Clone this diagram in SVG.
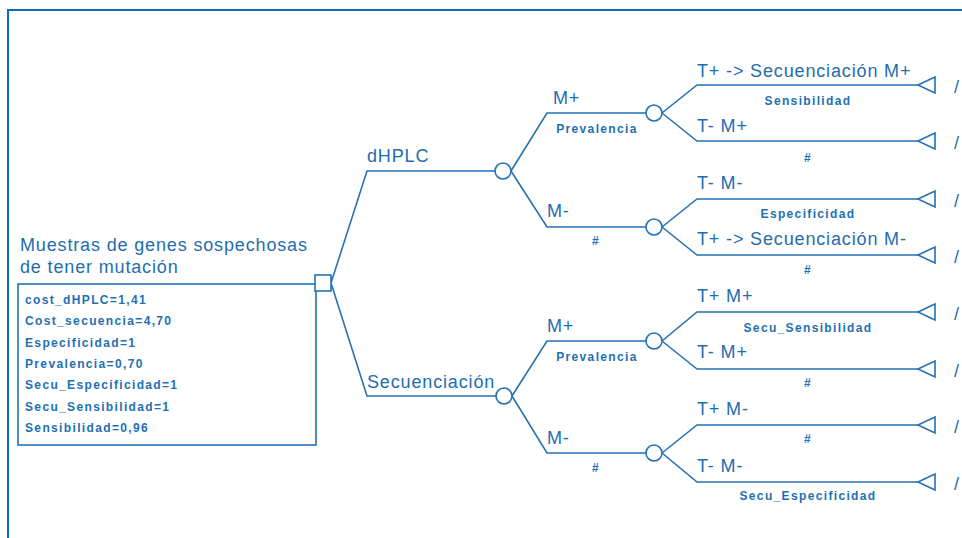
<svg xmlns="http://www.w3.org/2000/svg" width="962" height="538" viewBox="0 0 962 538">
  <style>
    .frame { fill: none; stroke: #0A6CB4; stroke-width: 2; }
    .edge { fill: none; stroke: #2472B4; stroke-width: 1.6; }
    .node { fill: #FFFFFF; stroke: #2472B4; stroke-width: 1.6; }
    .big { font-family: "Liberation Sans", Arial, sans-serif; font-size: 18px; letter-spacing: 0.85px; fill: #1F6DB0; }
    .small { font-family: "Liberation Sans", Arial, sans-serif; font-size: 12px; font-weight: bold; letter-spacing: 1.35px; fill: #2270B2; }
    .mid { text-anchor: middle; }
  </style>
  <defs>
    <polygon id="terminal" points="0,0 17,-8 17,8" class="node"/>
  </defs>

  <rect width="962" height="538" fill="#FFFFFF"/>
  <!-- window frame -->
  <path class="frame" d="M8,540 V10 H966"/>

  <!-- connectors -->
  <g id="connectors">
    <!-- decision to strategies -->
    <path class="edge" d="M331,283 L367,171 H495"/>
    <path class="edge" d="M331,283 L367,396 H496"/>
    <!-- dHPLC chance branches -->
    <path class="edge" d="M511,171 L547,113 H646"/>
    <path class="edge" d="M511,171 L547,227 H646"/>
    <!-- Secuenciacion chance branches -->
    <path class="edge" d="M512,396 L547,341 H646"/>
    <path class="edge" d="M512,396 L547,453 H646"/>
    <!-- test outcome branches -->
    <path class="edge" d="M662,113 L697,85 H918 M662,113 L697,141 H918"/>
    <path class="edge" d="M662,227 L697,199 H918 M662,227 L697,255 H918"/>
    <path class="edge" d="M662,341 L697,312 H918 M662,341 L697,369 H918"/>
    <path class="edge" d="M662,453 L697,425 H918 M662,453 L697,482 H918"/>
  </g>

  <!-- root decision node with its variable box -->
  <g id="decision">
    <text class="big" x="20" y="251">Muestras de genes sospechosas</text>
    <text class="big" x="20" y="273">de tener mutación</text>
    <rect class="node" x="18" y="284" width="298" height="161" fill="none"/>
    <text class="small" x="25" y="303.5">cost_dHPLC=1,41</text>
    <text class="small" x="25" y="325">Cost_secuencia=4,70</text>
    <text class="small" x="25" y="346.5">Especificidad=1</text>
    <text class="small" x="25" y="368">Prevalencia=0,70</text>
    <text class="small" x="25" y="389">Secu_Especificidad=1</text>
    <text class="small" x="25" y="410.5">Secu_Sensibilidad=1</text>
    <text class="small" x="25" y="432">Sensibilidad=0,96</text>
    <rect class="node" x="315" y="275" width="16" height="16"/>
  </g>

  <!-- strategy: dHPLC -->
  <g id="chance-dhplc">
    <text class="big" x="367" y="162">dHPLC</text>
    <circle class="node" cx="503" cy="171" r="8"/>
  </g>
  <g id="chance-dhplc-mpos">
    <text class="big" x="553" y="104">M+</text>
    <text class="small mid" x="597" y="133">Prevalencia</text>
    <circle class="node" cx="654" cy="113" r="8"/>
  </g>
  <g id="chance-dhplc-mneg">
    <text class="big" x="547" y="217">M-</text>
    <text class="small mid" x="596" y="245">#</text>
    <circle class="node" cx="654" cy="227" r="8"/>
  </g>

  <!-- strategy: Secuenciacion -->
  <g id="chance-secu">
    <text class="big" x="367" y="388">Secuenciación</text>
    <circle class="node" cx="504" cy="396" r="8"/>
  </g>
  <g id="chance-secu-mpos">
    <text class="big" x="547" y="332">M+</text>
    <text class="small mid" x="597" y="361">Prevalencia</text>
    <circle class="node" cx="654" cy="341" r="8"/>
  </g>
  <g id="chance-secu-mneg">
    <text class="big" x="547" y="444">M-</text>
    <text class="small mid" x="596" y="472">#</text>
    <circle class="node" cx="654" cy="453" r="8"/>
  </g>

  <!-- terminal nodes -->
  <g id="term-1">
    <text class="big" x="697" y="77">T+ -&gt; Secuenciación M+</text>
    <text class="small mid" x="808" y="105">Sensibilidad</text>
    <use href="#terminal" x="918" y="85"/>
    <text class="big" x="954" y="93">/</text>
  </g>
  <g id="term-2">
    <text class="big" x="697" y="132">T- M+</text>
    <text class="small mid" x="808" y="162">#</text>
    <use href="#terminal" x="918" y="141"/>
    <text class="big" x="954" y="149">/</text>
  </g>
  <g id="term-3">
    <text class="big" x="697" y="189">T- M-</text>
    <text class="small mid" x="808" y="218">Especificidad</text>
    <use href="#terminal" x="918" y="199"/>
    <text class="big" x="954" y="207">/</text>
  </g>
  <g id="term-4">
    <text class="big" x="697" y="245">T+ -&gt; Secuenciación M-</text>
    <text class="small mid" x="808" y="274">#</text>
    <use href="#terminal" x="918" y="255"/>
    <text class="big" x="954" y="263">/</text>
  </g>
  <g id="term-5">
    <text class="big" x="697" y="302">T+ M+</text>
    <text class="small mid" x="808" y="332">Secu_Sensibilidad</text>
    <use href="#terminal" x="918" y="312"/>
    <text class="big" x="954" y="320">/</text>
  </g>
  <g id="term-6">
    <text class="big" x="697" y="358">T- M+</text>
    <text class="small mid" x="808" y="387">#</text>
    <use href="#terminal" x="918" y="369"/>
    <text class="big" x="954" y="377">/</text>
  </g>
  <g id="term-7">
    <text class="big" x="697" y="415">T+ M-</text>
    <text class="small mid" x="808" y="443">#</text>
    <use href="#terminal" x="918" y="425"/>
    <text class="big" x="954" y="433">/</text>
  </g>
  <g id="term-8">
    <text class="big" x="697" y="472">T- M-</text>
    <text class="small mid" x="808" y="500">Secu_Especificidad</text>
    <use href="#terminal" x="918" y="482"/>
    <text class="big" x="954" y="490">/</text>
  </g>
</svg>
